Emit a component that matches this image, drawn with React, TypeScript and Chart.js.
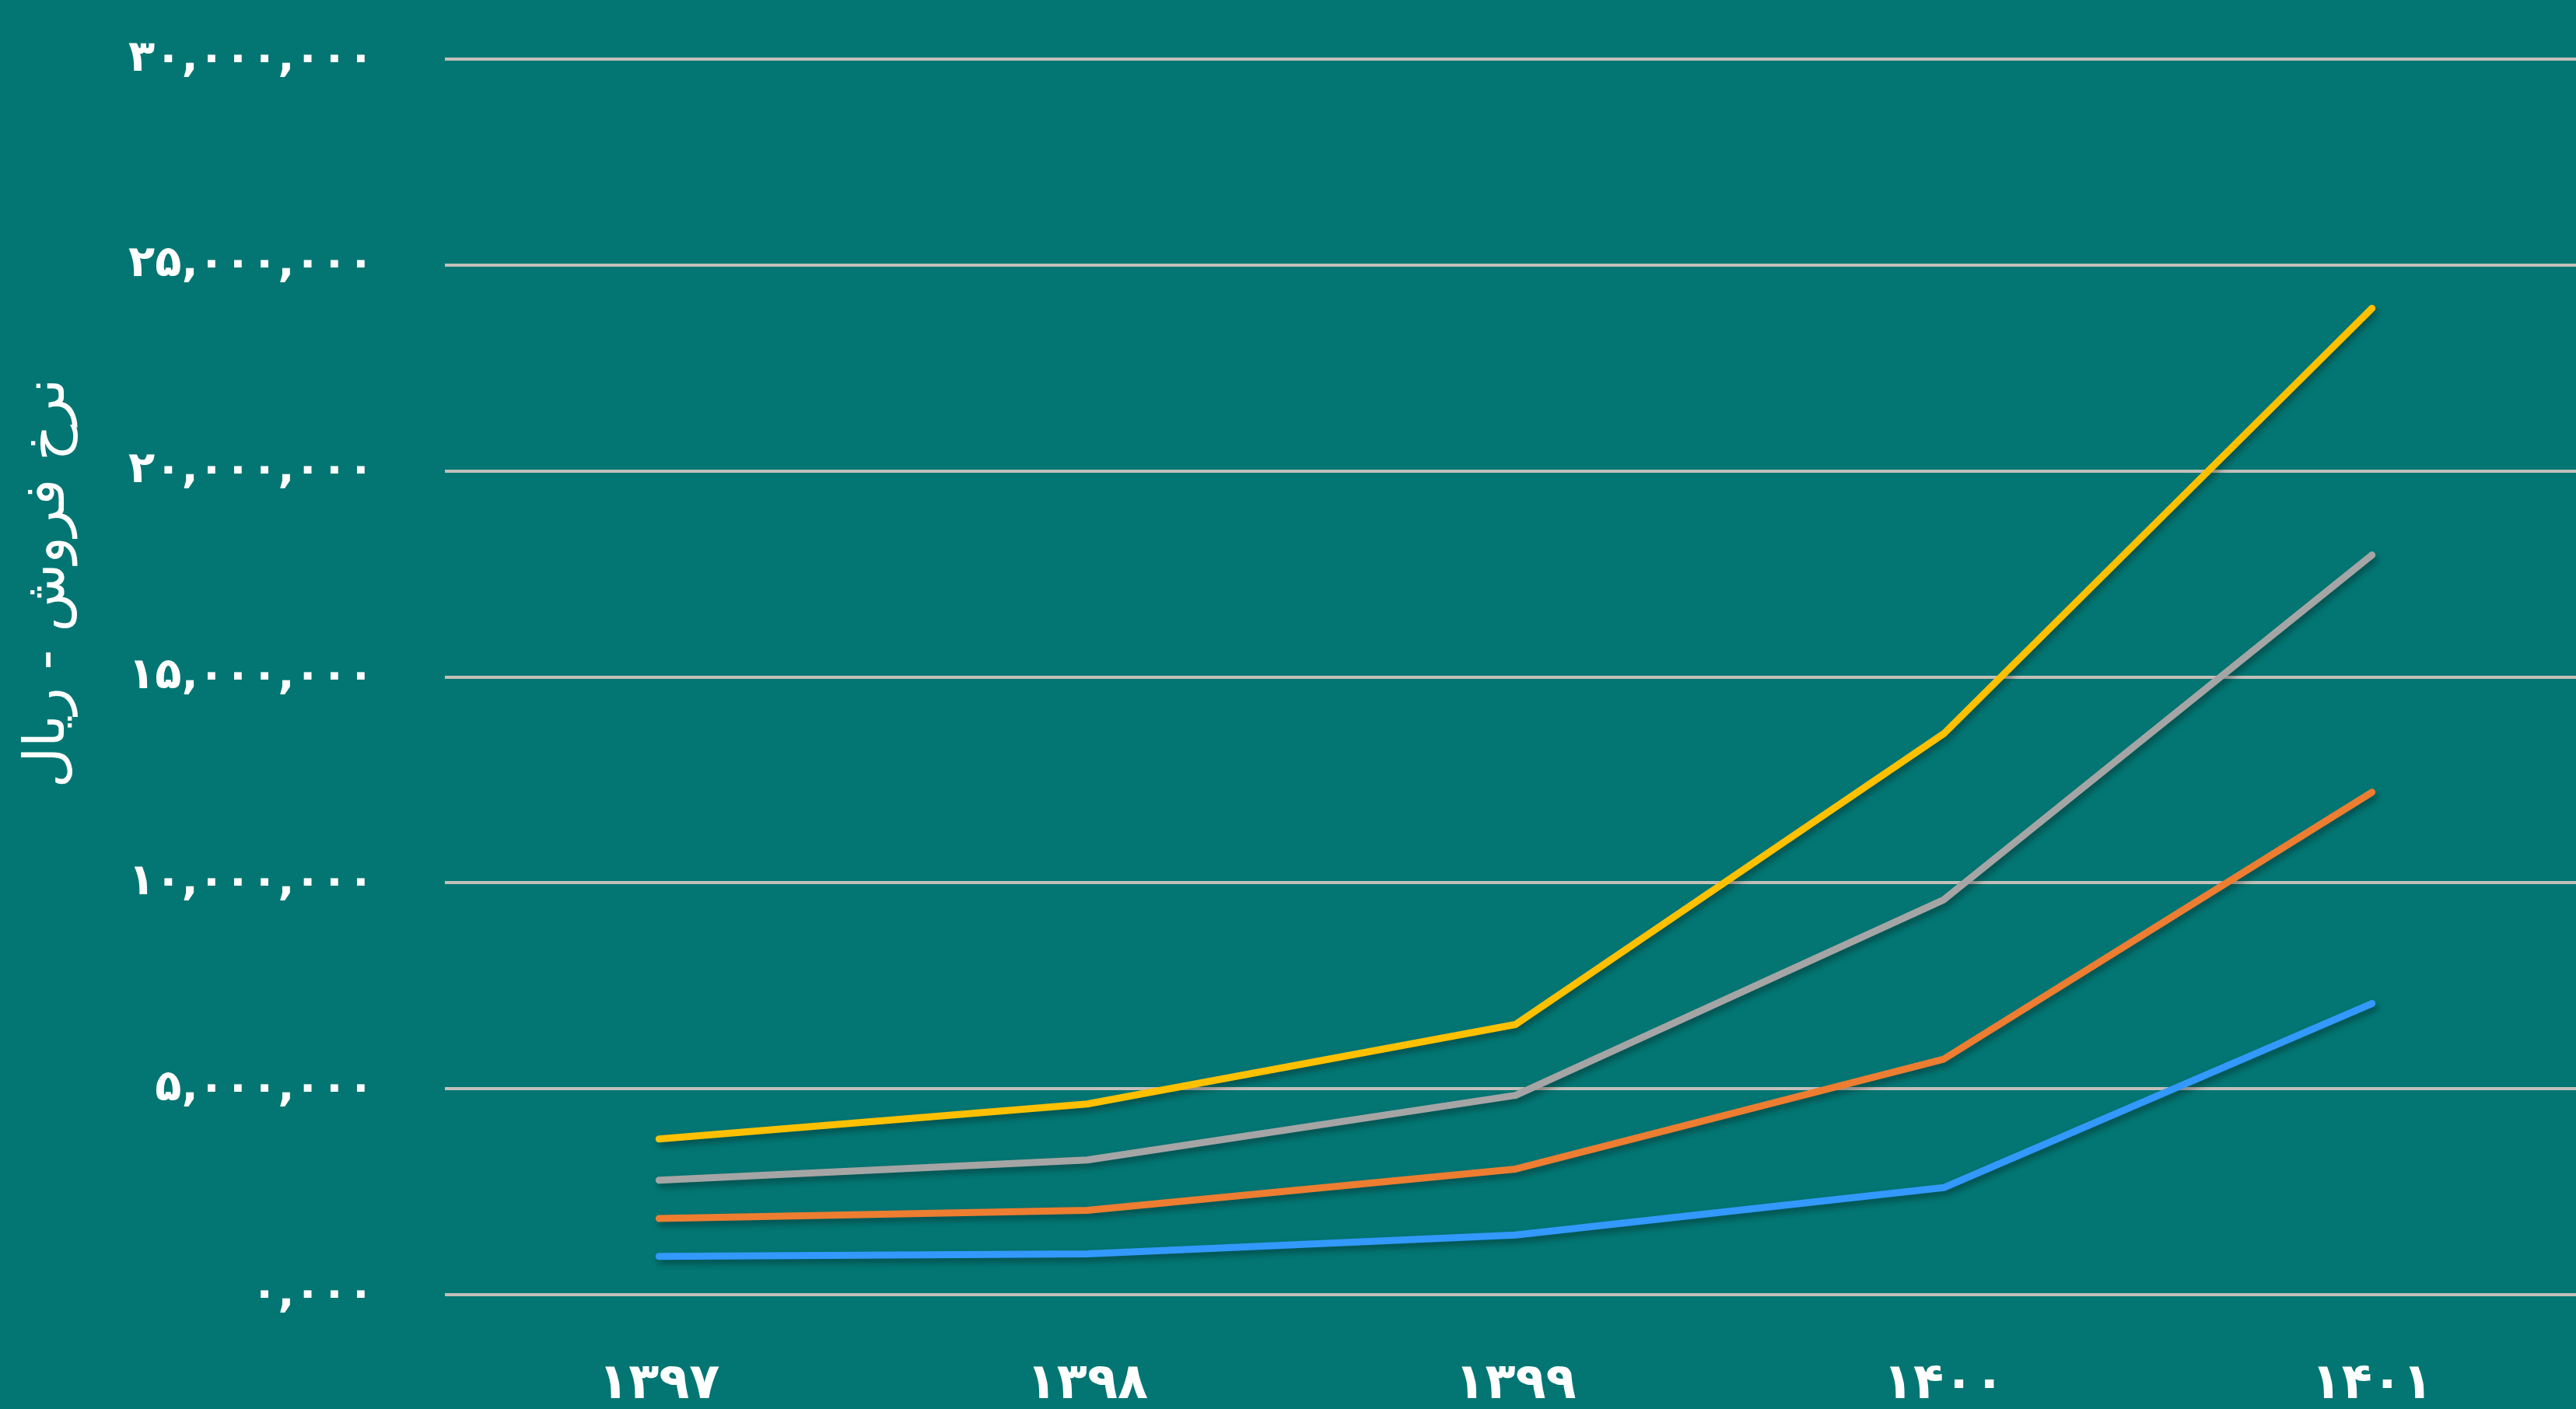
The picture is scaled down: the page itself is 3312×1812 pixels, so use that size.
import React, { useEffect, useRef } from "react";
import { Chart, registerables } from "chart.js";

Chart.register(...registerables);

const categories = ["۱۳۹۷", "۱۳۹۸", "۱۳۹۹", "۱۴۰۰", "۱۴۰۱"];
const seriesNames = ["سری ۱", "سری ۲", "سری ۳", "سری ۴"];
const yellowValues = [3780000, 4630000, 6560000, 13620000, 23950000];
const grayValues = [2780000, 3270000, 4840000, 9590000, 17960000];
const orangeValues = [1850000, 2050000, 3050000, 5720000, 12200000];
const blueValues = [930000, 990000, 1450000, 2600000, 7070000];
const yTickLabels = [
  "۰,۰۰۰",
  "۵,۰۰۰,۰۰۰",
  "۱۰,۰۰۰,۰۰۰",
  "۱۵,۰۰۰,۰۰۰",
  "۲۰,۰۰۰,۰۰۰",
  "۲۵,۰۰۰,۰۰۰",
  "۳۰,۰۰۰,۰۰۰",
];
const yAxisTitle = "نرخ فروش - ریال";

const BG = "#037673";
const FONT = "'DejaVu Sans', sans-serif";

export default function App() {
  const ref = useRef<HTMLCanvasElement | null>(null);

  useEffect(() => {
    document.body.style.margin = "0";
    document.body.style.overflow = "hidden";
    const canvas = ref.current;
    if (!canvas) return;

    const shadowPlugin = {
      id: "lineShadow",
      beforeDatasetDraw(chart: any) {
        const ctx = chart.ctx;
        ctx.save();
        ctx.shadowColor = "rgba(0,0,0,0.35)";
        ctx.shadowBlur = 8;
        ctx.shadowOffsetX = 3;
        ctx.shadowOffsetY = 5;
      },
      afterDatasetDraw(chart: any) {
        chart.ctx.restore();
      },
    };

    const titlePlugin = {
      id: "yTitle",
      afterDraw(chart: any) {
        const ctx = chart.ctx;
        ctx.save();
        ctx.translate(63, 750);
        ctx.rotate(-Math.PI / 2);
        ctx.direction = "rtl";
        ctx.textAlign = "center";
        ctx.textBaseline = "middle";
        ctx.fillStyle = "#ffffff";
        ctx.font = `72px ${FONT}`;
        ctx.fillText(yAxisTitle, 0, 0);
        ctx.restore();
      },
    };

    const mk = (label: string, data: number[], color: string) => ({
      label,
      data,
      borderColor: color,
      backgroundColor: color,
      borderWidth: 9,
      pointRadius: 0,
      tension: 0,
      borderCapStyle: "round",
      borderJoinStyle: "round",
      fill: false,
    });

    const chart = new Chart(canvas, {
      type: "line",
      data: {
        labels: categories,
        datasets: [
          mk(seriesNames[0], yellowValues, "#FFC000"),
          mk(seriesNames[1], grayValues, "#A5A5A5"),
          mk(seriesNames[2], orangeValues, "#ED7D31"),
          mk(seriesNames[3], blueValues, "#3399FF"),
        ],
      } as any,
      options: {
        animation: false,
        responsive: true,
        maintainAspectRatio: false,
        layout: { padding: { top: 76, right: 0, left: 0, bottom: 0 } },
        plugins: {
          legend: { display: false },
          tooltip: { enabled: false },
        },
        scales: {
          x: {
            offset: true,
            grid: { display: false, drawTicks: false },
            border: { display: false },
            ticks: {
              color: "#ffffff",
              padding: 78,
              font: { family: FONT, size: 64, weight: "bold" },
            },
            afterFit(scale: any) {
              scale.height = 147;
            },
          },
          y: {
            min: 0,
            max: 30000000,
            grid: { color: "#C4C0BA", lineWidth: 4, drawTicks: false },
            border: { display: false },
            ticks: {
              stepSize: 5000000,
              color: "#ffffff",
              padding: 91,
              font: { family: FONT, size: 56, weight: "bold" },
              callback: (v: any) => yTickLabels[Math.round(Number(v) / 5000000)],
            },
            afterFit(scale: any) {
              scale.width = 572;
              scale.paddingTop = 0;
              scale.paddingBottom = 0;
            },
          },
        },
      } as any,
      plugins: [shadowPlugin, titlePlugin],
    });

    return () => chart.destroy();
  }, []);

  return (
    <div
      style={{
        position: "absolute",
        left: 0,
        top: 0,
        width: 3325,
        height: 1812,
        background: BG,
      }}
    >
      <canvas ref={ref} />
    </div>
  );
}
